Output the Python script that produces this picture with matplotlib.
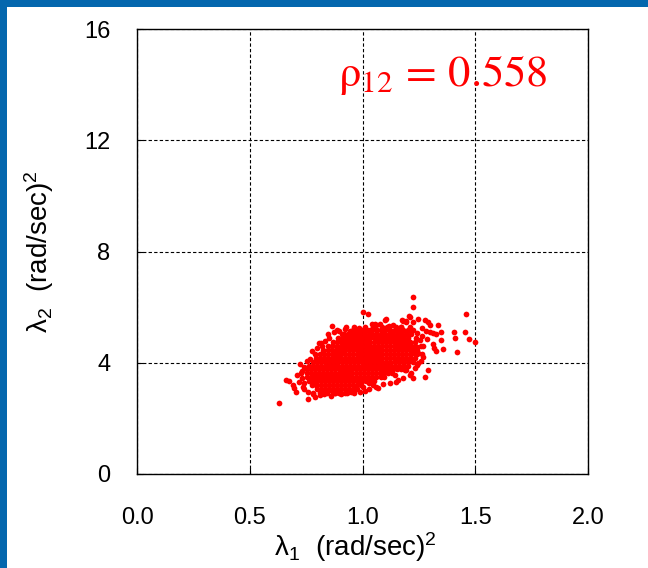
import matplotlib
matplotlib.use("Agg")
import matplotlib.pyplot as plt
from matplotlib.patches import Rectangle

plt.rcParams['font.family'] = ['Liberation Sans', 'DejaVu Sans']
plt.rcParams['mathtext.fontset'] = 'custom'
plt.rcParams['mathtext.rm'] = 'Liberation Sans'
plt.rcParams['mathtext.default'] = 'rm'

# axis ticks
x_ticks = [0.0, 0.5, 1.0, 1.5, 2.0]
y_ticks = [0, 4, 8, 12, 16]
rho_12 = 0.558

# dense core of the sample cloud, one list of lambda_1 values per lambda_2 row
core_rows_lam2 = [5.30, 5.16, 5.02, 4.88, 4.74, 4.60, 4.46, 4.32, 4.18, 4.04, 3.90, 3.76,
                  3.62, 3.48, 3.34, 3.20, 3.06, 2.93]
core_rows_lam1 = [
    [1.012, 1.048, 1.085, 1.108, 1.150, 1.172, 1.210],
    [0.962, 0.985, 1.004, 1.022, 1.041, 1.066, 1.083, 1.101, 1.124, 1.142, 1.160, 1.181, 1.203, 1.226],
    [0.918, 0.937, 0.954, 0.973, 0.990, 1.008, 1.027, 1.044, 1.062, 1.081, 1.098, 1.116, 1.133, 1.151,
     1.170, 1.192, 1.214],
    [0.890, 0.909, 0.927, 0.945, 0.963, 0.981, 0.999, 1.017, 1.035, 1.054, 1.072, 1.090, 1.108, 1.126,
     1.145, 1.163, 1.181, 1.203, 1.238],
    [0.868, 0.886, 0.904, 0.922, 0.941, 0.958, 0.976, 0.994, 1.012, 1.031, 1.049, 1.067, 1.085, 1.103,
     1.121, 1.139, 1.157, 1.176, 1.194, 1.212, 1.231],
    [0.848, 0.866, 0.886, 0.907, 0.925, 0.943, 0.961, 0.979, 0.997, 1.015, 1.034, 1.052, 1.070, 1.088,
     1.106, 1.124, 1.142, 1.161, 1.179, 1.197, 1.215, 1.231, 1.258],
    [0.826, 0.846, 0.866, 0.884, 0.902, 0.920, 0.938, 0.957, 0.975, 0.993, 1.011, 1.029, 1.047, 1.065,
     1.084, 1.102, 1.120, 1.138, 1.156, 1.174, 1.192, 1.211, 1.228, 1.243],
    [0.810, 0.829, 0.849, 0.868, 0.887, 0.905, 0.923, 0.941, 0.960, 0.978, 0.996, 1.014, 1.032, 1.050,
     1.068, 1.087, 1.105, 1.123, 1.141, 1.159, 1.177, 1.195, 1.213, 1.237, 1.262],
    [0.792, 0.812, 0.830, 0.848, 0.866, 0.884, 0.902, 0.921, 0.939, 0.957, 0.975, 0.993, 1.011, 1.029,
     1.048, 1.066, 1.084, 1.102, 1.120, 1.138, 1.156, 1.175, 1.193, 1.211, 1.232],
    [0.779, 0.798, 0.816, 0.834, 0.852, 0.870, 0.889, 0.907, 0.925, 0.943, 0.961, 0.979, 0.997, 1.016,
     1.034, 1.052, 1.070, 1.088, 1.106, 1.124, 1.143, 1.161, 1.179, 1.201, 1.222],
    [0.762, 0.781, 0.800, 0.818, 0.836, 0.855, 0.873, 0.891, 0.909, 0.927, 0.945, 0.963, 0.982, 1.000,
     1.018, 1.036, 1.054, 1.072, 1.090, 1.109, 1.127, 1.145, 1.163, 1.184, 1.203],
    [0.752, 0.771, 0.790, 0.808, 0.826, 0.844, 0.862, 0.880, 0.899, 0.917, 0.935, 0.953, 0.971, 0.989,
     1.008, 1.026, 1.044, 1.062, 1.080, 1.098, 1.116, 1.135, 1.152, 1.171],
    [0.752, 0.770, 0.788, 0.806, 0.824, 0.842, 0.861, 0.879, 0.897, 0.915, 0.933, 0.951, 0.969, 0.988,
     1.006, 1.024, 1.042, 1.060, 1.078, 1.096, 1.115, 1.133],
    [0.756, 0.774, 0.792, 0.810, 0.828, 0.846, 0.864, 0.882, 0.900, 0.918, 0.936, 0.954, 0.972, 0.990,
     1.008, 1.026, 1.044, 1.062, 1.080, 1.094],
    [0.762, 0.780, 0.798, 0.816, 0.834, 0.852, 0.870, 0.888, 0.906, 0.924, 0.942, 0.960, 0.978, 0.996,
     1.014, 1.032, 1.049],
    [0.778, 0.796, 0.814, 0.832, 0.850, 0.868, 0.886, 0.904, 0.922, 0.940, 0.958, 0.976, 0.994],
    [0.798, 0.816, 0.834, 0.852, 0.870, 0.888, 0.906, 0.924, 0.942, 0.961],
    [0.812, 0.842, 0.871, 0.898, 0.921],
]

# scattered samples around the core
edge_lam1 = [1.225, 1.222, 1.000, 1.025, 1.103, 1.461, 1.205, 1.212, 1.247, 1.278,
             1.290, 1.335, 1.407, 1.454, 1.411, 1.473, 1.501, 1.417, 1.350, 1.350,
             1.325, 1.312, 1.318, 1.326, 1.358, 1.291, 1.276, 1.240, 1.247, 1.225,
             1.190, 1.158, 1.060, 1.030, 0.932, 0.900, 0.810, 0.760, 0.630, 0.707,
             0.695, 0.693, 0.660, 0.675, 0.730, 0.725, 0.755, 0.778, 0.808, 0.818,
             0.848, 0.863, 0.907, 0.944, 0.980, 1.040, 1.055, 1.077, 1.136, 1.180,
             1.195, 1.176, 1.195, 1.225, 1.299, 1.299, 1.313, 1.240, 1.254, 1.240,
             1.247, 1.217, 1.143, 1.195, 1.240, 1.047, 1.003, 0.976, 0.855, 0.789,
             0.737, 1.099, 0.925, 0.985, 1.061, 1.118, 1.172, 0.895, 0.958, 1.035,
             1.096, 1.165, 0.742, 0.728, 0.745, 0.780, 0.835, 0.880, 0.950, 0.905,
             0.765, 0.790, 0.800, 0.822, 0.835, 0.852, 0.872, 0.886, 0.921, 0.962,
             1.262, 1.270, 1.268, 1.258, 1.285, 1.262, 1.280, 1.235, 1.210, 1.180,
             1.150, 1.120, 1.090, 1.070, 1.030, 1.010, 0.740, 0.760, 0.781, 0.830,
             0.860, 0.880, 0.962, 0.990, 0.720, 0.711, 0.732, 0.741]
edge_lam2 = [6.37, 6.01, 5.81, 5.75, 5.57, 5.77, 5.68, 5.64, 5.59, 5.52,
             5.46, 5.35, 5.11, 5.11, 4.90, 4.84, 4.73, 4.40, 5.11, 4.81,
             5.05, 4.66, 4.53, 4.41, 4.51, 3.74, 3.47, 4.33, 3.98, 3.44,
             3.74, 3.38, 3.14, 3.26, 2.92, 3.02, 2.84, 2.68, 2.56, 2.96,
             3.10, 3.20, 3.37, 3.36, 3.44, 3.95, 4.07, 4.42, 4.70, 4.71,
             5.05, 5.32, 5.02, 5.14, 5.17, 5.38, 5.38, 5.38, 5.35, 5.50,
             5.45, 5.53, 5.51, 5.45, 5.37, 5.11, 5.08, 5.08, 4.81, 4.57,
             4.34, 3.62, 3.56, 3.74, 3.92, 3.20, 3.14, 3.04, 3.02, 2.78,
             3.14, 5.53, 5.27, 5.26, 5.35, 5.31, 5.30, 5.15, 5.18, 5.18,
             5.17, 5.16, 3.28, 3.62, 3.80, 2.92, 2.94, 2.90, 2.95, 2.88,
             4.12, 4.30, 4.52, 4.60, 4.80, 4.90, 5.10, 5.18, 5.22, 5.28,
             4.95, 4.62, 4.22, 4.05, 4.85, 5.25, 5.15, 3.80, 3.55, 3.45,
             3.30, 3.28, 3.22, 3.10, 3.05, 2.98, 3.05, 2.95, 2.88, 2.86,
             2.80, 2.92, 2.90, 2.95, 3.30, 3.55, 3.72, 3.85]

lam1 = []
lam2 = []
for row_y, row_x in zip(core_rows_lam2, core_rows_lam1):
    lam1.extend(row_x)
    lam2.extend([row_y] * len(row_x))
lam1.extend(edge_lam1)
lam2.extend(edge_lam2)

fig = plt.figure(figsize=(6.48, 5.68), dpi=100)
fig.patch.set_facecolor('white')

# slide frame: blue bars on the top and left edges
frame_blue = '#0467AE'
fig.patches.append(Rectangle((0, 1 - 7 / 568), 1, 7 / 568, transform=fig.transFigure,
                             facecolor=frame_blue, edgecolor='none', zorder=0))
fig.patches.append(Rectangle((0, 0), 7 / 648, 1, transform=fig.transFigure,
                             facecolor=frame_blue, edgecolor='none', zorder=0))

ax = fig.add_axes([137 / 648, 1 - 474 / 568, 451 / 648, 445 / 568])
ax.set_axisbelow(True)
ax.scatter(lam1, lam2, s=17, c='#FF0000', linewidths=0, zorder=3)

ax.set_xlim(0, 2)
ax.set_ylim(0, 16)
ax.set_xticks(x_ticks)
ax.set_xticklabels([f'{v:.1f}' for v in x_ticks])
ax.set_yticks(y_ticks)
ax.set_yticklabels([str(v) for v in y_ticks])
ax.tick_params(direction='in', length=4, width=0.8, labelsize=17, colors='black')
ax.tick_params(axis='x', pad=24)
ax.tick_params(axis='y', pad=19)
ax.grid(True, color='black', linestyle=(0, (3, 2)), linewidth=0.8)
for sp in ax.spines.values():
    sp.set_linewidth(1.0)
    sp.set_color('black')

ax.set_xlabel('λ$_1$  (rad/sec)$^2$', fontsize=20)
ax.xaxis.set_label_coords(0.485, -0.127)
ax.set_ylabel('λ$_2$  (rad/sec)$^2$', fontsize=20)
ax.yaxis.set_label_coords(-0.18, 0.5)

ax.text(0.89, 13.95, f'$\\rho_{{12}}\\,=\\,{rho_12:.3f}$', color='#FF0000', fontsize=32,
        math_fontfamily='stix', ha='left', va='baseline')

fig.savefig('out.png', dpi=100)
